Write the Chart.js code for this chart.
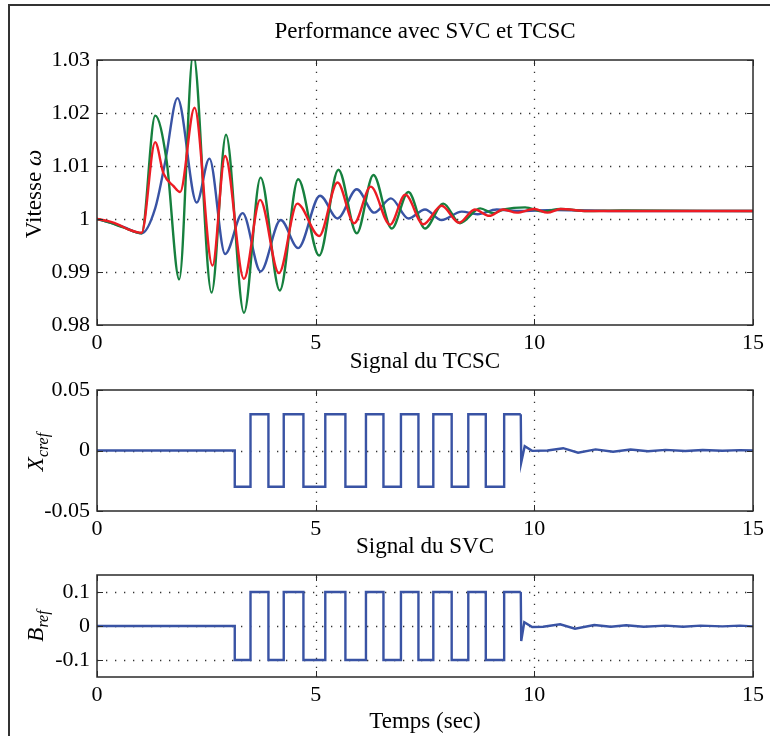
<!DOCTYPE html>
<html><head><meta charset="utf-8">
<script src="https://cdn.jsdelivr.net/npm/chart.js@4.4.1/dist/chart.umd.min.js"></script>
<style>
html,body{margin:0;padding:0;background:#fff;width:770px;height:736px;overflow:hidden;}
#wrap{position:relative;width:770px;height:736px;}
canvas{position:absolute;left:0;}
.lbl{position:absolute;font-family:'Liberation Serif','Times New Roman',serif;font-size:23px;color:#000;white-space:nowrap;transform:translate(-50%,-50%);line-height:1;}
.rot{transform:translate(-50%,-50%) rotate(-90deg);}
.lbl sub{font-size:16px;vertical-align:-5px;}
#frame{position:absolute;left:8px;top:4px;width:800px;height:800px;border-left:2px solid #333;border-top:2px solid #333;}
</style></head>
<body><div id="wrap">
<div id="frame"></div>
<canvas id="c1" width="770" height="360" style="top:0px"></canvas>
<canvas id="c2" width="770" height="180" style="top:360px"></canvas>
<canvas id="c3" width="770" height="186" style="top:550px"></canvas>
<div class="lbl" style="left:425px;top:30px">Performance avec SVC et TCSC</div>
<div class="lbl rot" style="left:33px;top:194px">Vitesse <i>ω</i></div>
<div class="lbl" style="left:425px;top:360px">Signal du TCSC</div>
<div class="lbl rot" style="left:37px;top:452px"><i>X</i><sub><i>cref</i></sub></div>
<div class="lbl" style="left:425px;top:545px">Signal du SVC</div>
<div class="lbl rot" style="left:37px;top:626px"><i>B</i><sub><i>ref</i></sub></div>
<div class="lbl" style="left:425px;top:720px">Temps (sec)</div>
</div>
<script>
// ---------- data ----------
const xTicks = [0, 5, 10, 15];
const speedTicks = [0.98, 0.99, 1, 1.01, 1.02, 1.03];
const xcrefTicks = [-0.05, 0, 0.05];
const brefTicks = [-0.1, 0, 0.1];

const tBlue = [0, 0.3, 0.6, 1.02, 1.33, 1.56, 1.84, 2.28, 2.57, 2.93, 3.33, 3.74, 4.20, 4.60, 5.10, 5.50, 5.94, 6.34, 6.72, 7.12, 7.50, 7.88, 8.34, 8.70, 9.14, 9.6, 10.5, 12, 15];
const vBlue = [1.0000, 0.9993, 0.9985, 0.9973, 1.0020, 1.0108, 1.0228, 1.0031, 1.0114, 0.9934, 1.0011, 0.9901, 0.9998, 0.9945, 1.0044, 1.0001, 1.0056, 1.0012, 1.0039, 1.0001, 1.0018, 0.9998, 1.0014, 1.0009, 1.0018, 1.0015, 1.0017, 1.0015, 1.0015];

const tGreen = [0, 0.3, 0.6, 1.02, 1.33, 1.59, 1.88, 2.20, 2.62, 2.95, 3.36, 3.74, 4.18, 4.60, 5.08, 5.52, 5.94, 6.32, 6.74, 7.12, 7.50, 7.92, 8.30, 8.76, 9.06, 9.30, 9.79, 10.2, 10.6, 11.2, 12, 15];
const vGreen = [1.0000, 0.9993, 0.9984, 0.9973, 1.0195, 1.0111, 0.9886, 1.0312, 0.9861, 1.0159, 0.9823, 1.0078, 0.9865, 1.0075, 0.9931, 1.0093, 0.9973, 1.0083, 0.9982, 1.0051, 0.9982, 1.0029, 0.9992, 1.0020, 1.0011, 1.0018, 1.0022, 1.0014, 1.0019, 1.0015, 1.0016, 1.0015];

const tRed = [0, 0.3, 0.5, 0.7, 1.02, 1.33, 1.52, 1.75, 1.90, 2.23, 2.64, 2.93, 3.36, 3.73, 4.16, 4.58, 5.08, 5.50, 5.88, 6.26, 6.70, 7.05, 7.46, 7.88, 8.28, 8.64, 8.97, 9.29, 9.6, 10.0, 10.3, 10.6, 11.2, 12, 15];
const vRed = [1.0000, 0.9995, 0.9989, 0.9981, 0.9974, 1.0145, 1.0086, 1.0062, 1.0051, 1.0210, 0.9912, 1.0119, 0.9887, 1.0036, 0.9898, 1.0029, 0.9968, 1.0069, 0.9992, 1.0061, 0.9989, 1.0046, 0.9990, 1.0025, 0.9993, 1.0018, 1.0006, 1.0018, 1.0012, 1.0019, 1.0012, 1.0019, 1.0015, 1.0015, 1.0015];

// square-wave switching instants and the level reached at each switch
const switchTimes = [3.15, 3.51, 3.92, 4.27, 4.72, 5.22, 5.68, 6.15, 6.55, 6.95, 7.35, 7.69, 8.11, 8.49, 8.89, 9.31];
const switchSign = [-1, 1, -1, 1, -1, 1, -1, 1, -1, 1, -1, 1, -1, 1, -1, 1];
const xcrefAmp = 0.03;
const brefAmp = 0.1;
const endSquare = 9.69;

const tXcrefTail = [9.69, 9.70, 9.78, 9.95, 10.3, 10.66, 11.0, 11.4, 11.8, 12.2, 12.6, 13.0, 13.45, 13.85, 14.3, 14.7, 15];
const vXcrefTail = [0.03, -0.010, 0.0035, -0.0003, 0.0, 0.0019, -0.0018, 0.0009, -0.0010, 0.0008, -0.0006, 0.0005, -0.0004, 0.0004, -0.0002, 0.0003, 0.0];
const tBrefTail = [9.69, 9.70, 9.77, 9.95, 10.2, 10.59, 10.93, 11.37, 11.75, 12.1, 12.5, 13.0, 13.4, 13.8, 14.3, 14.7, 15];
const vBrefTail = [0.1, -0.044, 0.011, -0.003, -0.002, 0.005, -0.008, 0.003, -0.002, 0.002, -0.002, 0.001, -0.002, 0.001, -0.001, 0.001, -0.001];

// ---------- helpers ----------
const FONT = "'Liberation Serif', 'Times New Roman', serif";
const BLUE = 'rgb(57,83,164)', GREEN = 'rgb(22,128,62)', RED = 'rgb(237,28,36)';
const zip = (t, v) => t.map((x, i) => ({x, y: v[i]}));
function squareData(amp) {
  const d = [{x: 0, y: 0}];
  let prev = 0;
  switchTimes.forEach((t, i) => {
    const lvl = switchSign[i] * amp;
    d.push({x: t, y: prev}, {x: t, y: lvl});
    prev = lvl;
  });
  d.push({x: endSquare, y: prev});
  return d;
}

const matlabAxes = {
  id: 'matlabAxes',
  beforeDatasetsDraw(chart, args, o) {
    const {ctx, chartArea: a, scales: {x, y}} = chart;
    ctx.save();
    ctx.strokeStyle = '#333';
    ctx.lineWidth = 1.3;
    ctx.setLineDash([1.3, 7.7]);
    o.xTicks.forEach(v => {
      const px = Math.round(x.getPixelForValue(v)) + 0.5;
      if (px < a.left + 2 || px > a.right - 2) return;
      ctx.beginPath(); ctx.moveTo(px, a.bottom); ctx.lineTo(px, a.top); ctx.stroke();
    });
    o.yTicks.forEach(v => {
      const py = Math.round(y.getPixelForValue(v)) + 0.5;
      if (py < a.top + 2 || py > a.bottom - 2) return;
      ctx.beginPath(); ctx.moveTo(a.left, py); ctx.lineTo(a.right, py); ctx.stroke();
    });
    ctx.restore();
  },
  afterDatasetsDraw(chart, args, o) {
    const {ctx, chartArea: a, scales: {x, y}} = chart;
    ctx.save();
    ctx.strokeStyle = '#2a2a2a';
    ctx.lineWidth = 1.5;
    ctx.strokeRect(a.left, a.top, a.right - a.left, a.bottom - a.top);
    ctx.lineWidth = 1;
    const L = 6;
    o.xTicks.forEach(v => {
      const px = Math.round(x.getPixelForValue(v)) + 0.5;
      ctx.beginPath();
      ctx.moveTo(px, a.bottom); ctx.lineTo(px, a.bottom - L);
      ctx.moveTo(px, a.top); ctx.lineTo(px, a.top + L);
      ctx.stroke();
    });
    o.yTicks.forEach(v => {
      const py = Math.round(y.getPixelForValue(v)) + 0.5;
      ctx.beginPath();
      ctx.moveTo(a.left, py); ctx.lineTo(a.left + L, py);
      ctx.moveTo(a.right, py); ctx.lineTo(a.right - L, py);
      ctx.stroke();
    });
    ctx.restore();
  }
};

Chart.defaults.font.family = FONT;
Chart.defaults.font.size = 22;
Chart.defaults.color = '#000';

function makeChart(id, datasets, yMin, yMax, yTicks, padTop, xHeight) {
  return new Chart(document.getElementById(id), {
    type: 'line',
    data: {datasets},
    options: {
      responsive: false,
      animation: false,
      devicePixelRatio: 1,
      layout: {padding: {top: padTop, right: 17, left: 0, bottom: 0}},
      plugins: {legend: {display: false}, tooltip: {enabled: false}, matlabAxes: {xTicks, yTicks}},
      elements: {point: {radius: 0}},
      scales: {
        x: {
          type: 'linear', min: 0, max: 15,
          grid: {display: false, drawTicks: false},
          border: {display: false},
          afterBuildTicks: s => { s.ticks = xTicks.map(v => ({value: v})); },
          afterFit: s => { s.height = xHeight; },
          ticks: {padding: 5, maxRotation: 0, autoSkip: false, callback: v => String(v)}
        },
        y: {
          type: 'linear', min: yMin, max: yMax,
          grid: {display: false, drawTicks: false},
          border: {display: false},
          afterBuildTicks: s => { s.ticks = yTicks.map(v => ({value: v})); },
          afterFit: s => { s.width = 97; },
          ticks: {padding: 7, autoSkip: false, callback: v => String(v)}
        }
      }
    },
    plugins: [matlabAxes]
  });
}

const lineDs = (data, color, mono) => ({
  data, borderColor: color, borderWidth: 2.4, fill: false, pointRadius: 0,
  cubicInterpolationMode: mono ? 'monotone' : 'default', tension: mono ? 0.4 : 0
});

makeChart('c1', [
  lineDs(zip(tRed, vRed), RED, true),
  lineDs(zip(tGreen, vGreen), GREEN, true),
  lineDs(zip(tBlue, vBlue), BLUE, true)
], 0.98, 1.03, speedTicks, 60, 35);

makeChart('c2', [
  lineDs(squareData(xcrefAmp), BLUE, false),
  lineDs(zip(tXcrefTail, vXcrefTail), BLUE, false)
], -0.05, 0.05, xcrefTicks, 30, 29);

makeChart('c3', [
  lineDs(squareData(brefAmp), BLUE, false),
  lineDs(zip(tBrefTail, vBrefTail), BLUE, false)
], -0.15, 0.15, brefTicks, 25, 59);
</script>
</body></html>
